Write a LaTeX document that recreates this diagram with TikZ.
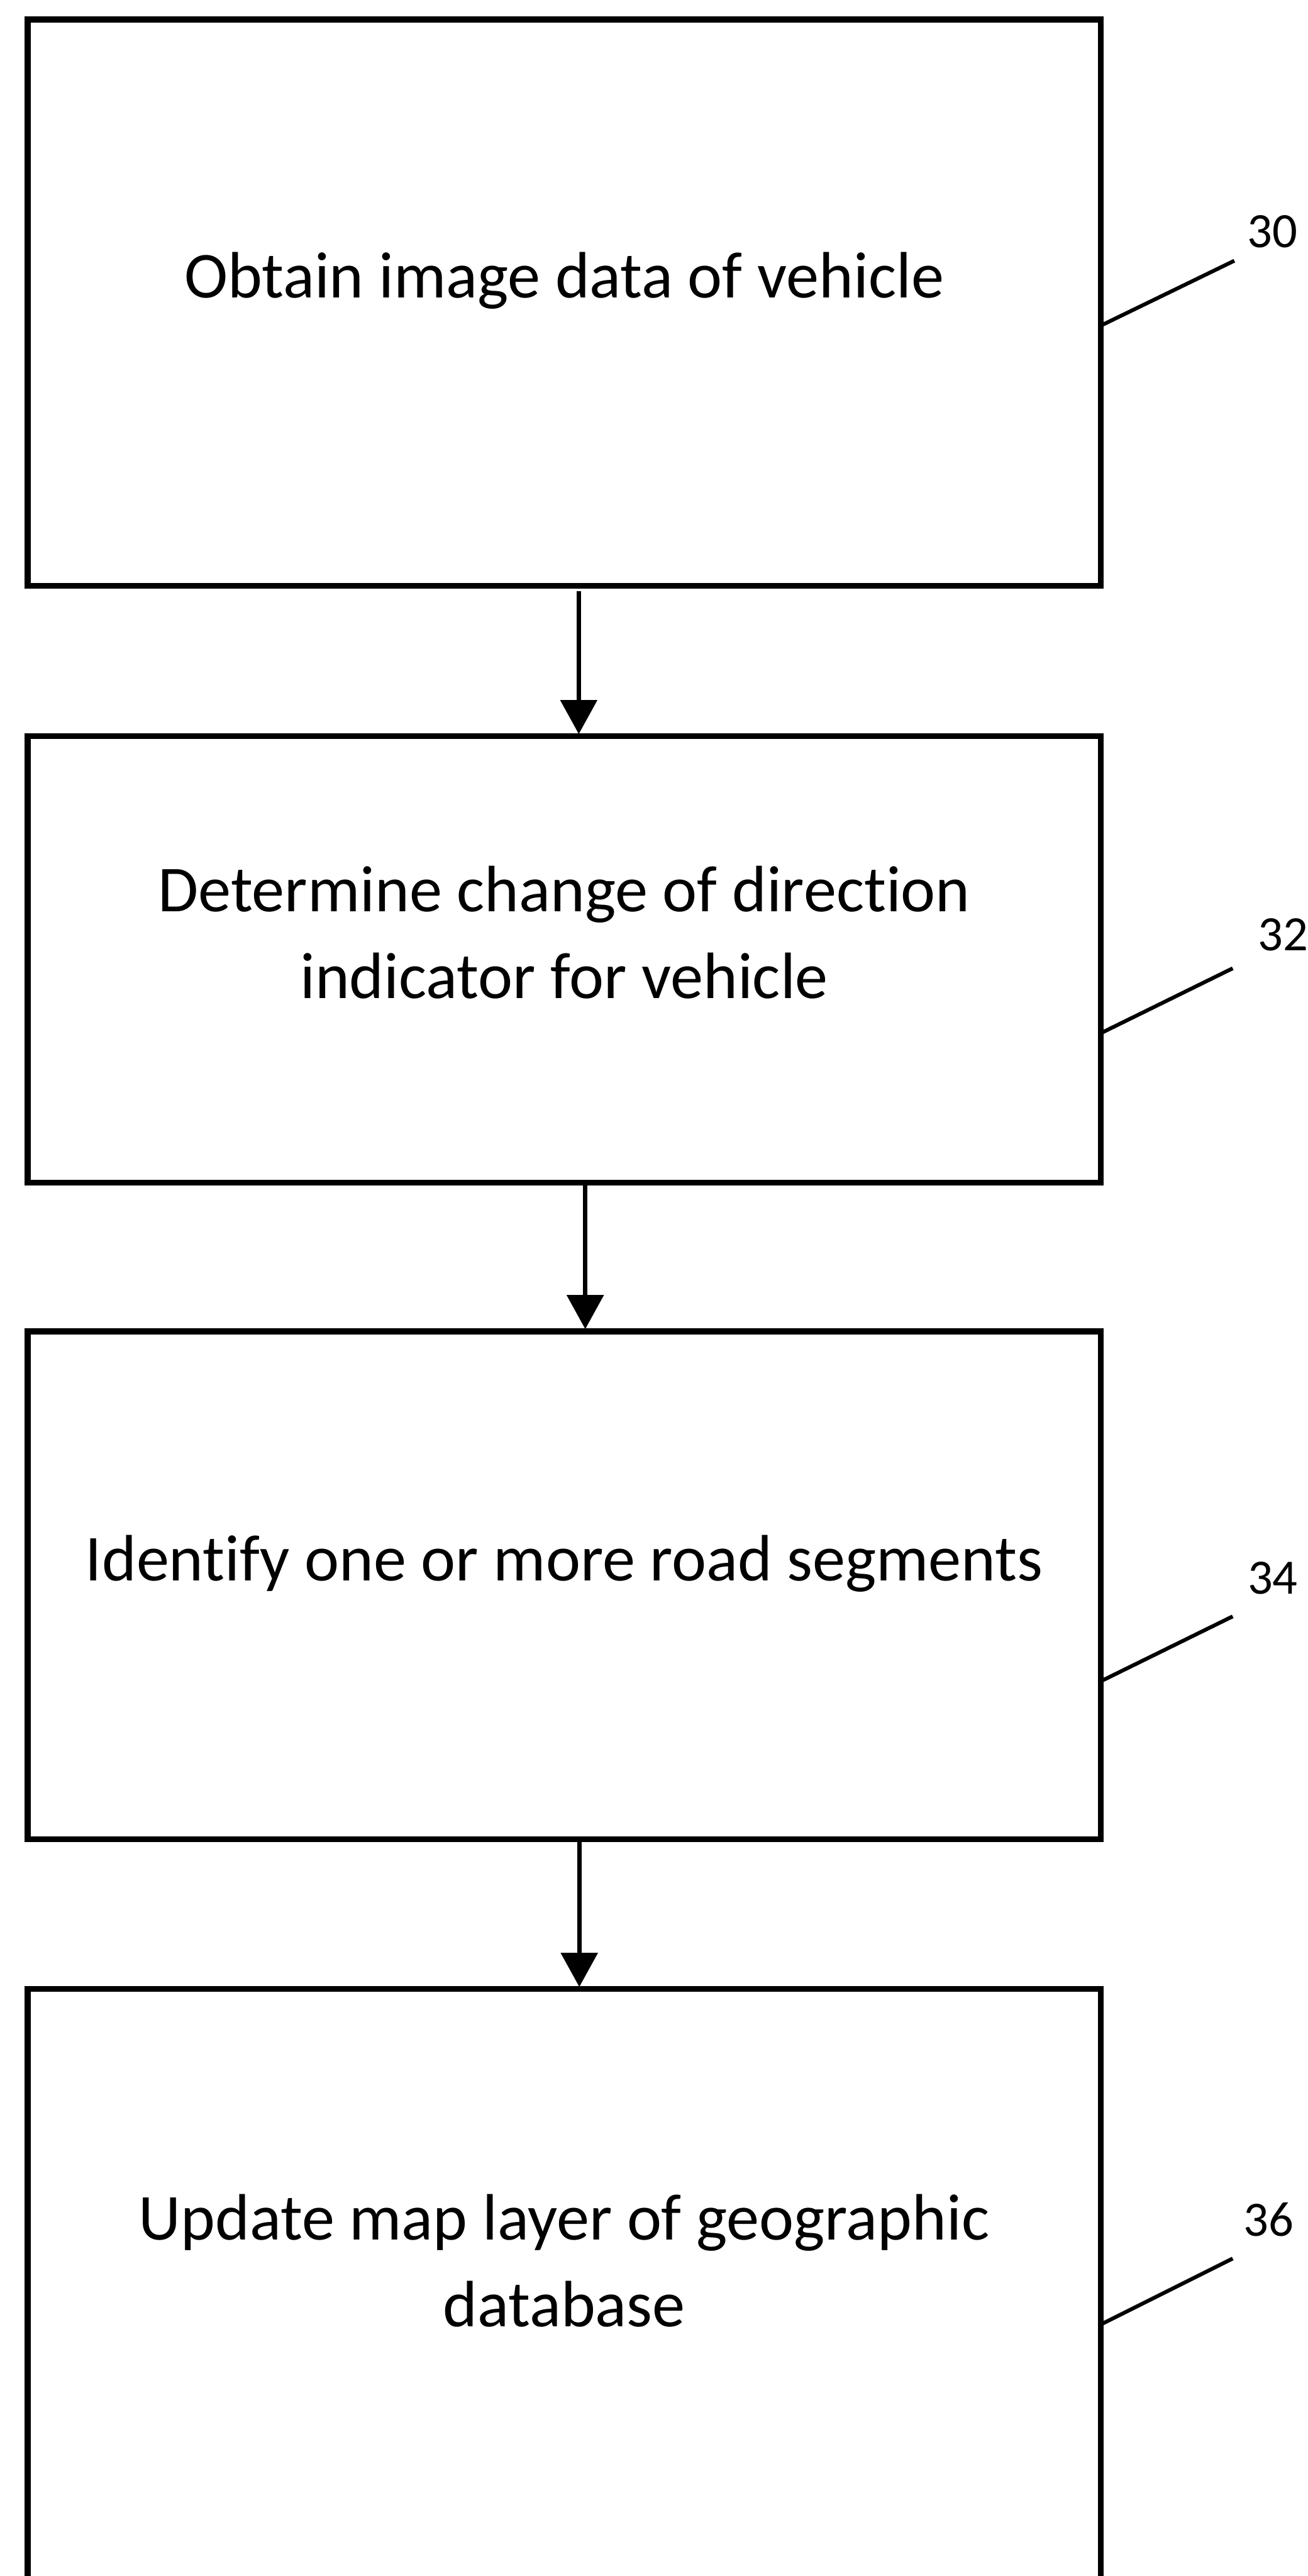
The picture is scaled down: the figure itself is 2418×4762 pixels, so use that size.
\documentclass[tikz,border=0pt]{standalone}
\usepackage{fontspec}
\setmainfont[Ligatures=NoCommon]{Carlito}
\usetikzlibrary{arrows.meta}
\begin{document}
\begin{tikzpicture}[x=0.1mm,y=-0.1mm,
  stepbox/.style={draw, line width=3.1pt, rectangle, minimum width=198.4mm, inner sep=0pt, outer sep=0pt},
  steptext/.style={font=\fontsize{34.5}{45.8}\selectfont, align=center, anchor=base, inner sep=0pt},
  reflabel/.style={font=\fontsize{26}{30}\selectfont, anchor=base, inner sep=0pt},
  leader/.style={line width=2pt},
  flow/.style={line width=2.3pt, -{Triangle[width=6.7mm,length=6.3mm]}}]
\useasboundingbox (0,0) rectangle (2418,4762);
\fill[white] (0,0) rectangle (2418,4762);
\clip (0,0) rectangle (2418,4762);
% boxes
\node[stepbox, minimum height=104.7mm] (b1) at (1043,559.5) {};
\node[stepbox, minimum height=82.5mm] (b2) at (1043,1773.5) {};
\node[stepbox, minimum height=93.9mm] (b3) at (1043,2930.5) {};
\node[stepbox, minimum height=112.3mm] (b4) at (1043,4238.5) {};
% texts (base anchor = baseline of the last line)
\node[steptext] (t1) at (1043,551) {Obtain image data of vehicle};
\node[steptext] (t2) at (1043,1846) {Determine change of direction\\indicator for vehicle};
\node[steptext] (t3) at (1043,2922) {Identify one or more road segments};
\node[steptext] (t4) at (1043,4301) {Update map layer of geographic\\database};
% arrows
\draw[flow] ([shift={(2.7mm,-1mm)}]b1.south) -- ([xshift=2.7mm,yshift=0.4mm]b2.north);
\draw[flow] ([xshift=3.9mm]b2.south) -- ([xshift=3.9mm,yshift=0.4mm]b3.north);
\draw[flow] ([xshift=2.8mm]b3.south) -- ([xshift=2.8mm,yshift=0.4mm]b4.north);
% leaders and reference numerals
\draw[leader] ([yshift=-56.6mm]b1.north east) -- ++(247,-120);
\draw[leader] ([yshift=-54.9mm]b2.north east) -- ++(244,-120);
\draw[leader] ([yshift=-64.7mm]b3.north east) -- ++(244,-120);
\draw[leader] ([yshift=-62.0mm]b4.north east) -- ++(244,-122);
\node[reflabel] (l30) at (2352,458) {30};
\node[reflabel] (l32) at (2372,1757) {32};
\node[reflabel] (l34) at (2353,2946) {34};
\node[reflabel] (l36) at (2345,4133) {36};
\end{tikzpicture}
\end{document}
